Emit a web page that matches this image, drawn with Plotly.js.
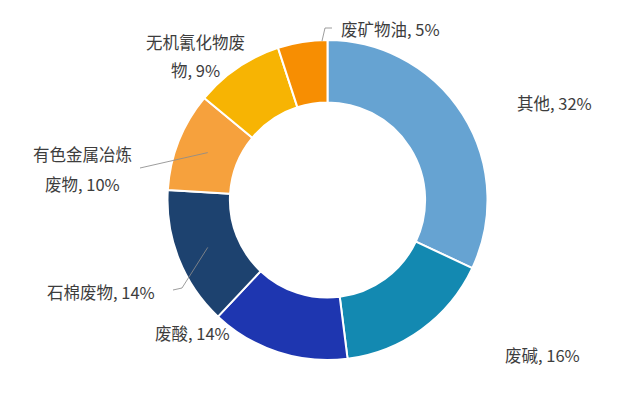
<!DOCTYPE html>
<html><head><meta charset="utf-8">
<script src="https://cdn.plot.ly/plotly-3.0.1.min.js"></script>
<style>html,body{margin:0;padding:0;background:#fff}#chart{width:644px;height:397px}</style>
</head><body><div id="chart"></div>
<script>
const categories = ["其他", "废碱", "废酸", "石棉废物", "有色金属冶炼废物", "无机氰化物废物", "废矿物油"];
const shares = [32, 16, 14, 14, 10, 9, 5];
const colors = ["#66a3d2", "#1389b1", "#1e36b0", "#1d426f", "#f6a13d", "#f7b403", "#f78e02"];

const W = 644, H = 397;
const cx = 327.5, cy = 200, R = 160, hole = 0.61;

const total = shares.reduce((a, b) => a + b, 0);
const fmt = v => Math.round(v / total * 100) + "%";

const labelSpecs = [
  {lines: [categories[0] + ", " + fmt(shares[0])], x: 554, y: 103},
  {lines: [categories[1] + ", " + fmt(shares[1])], x: 542, y: 355},
  {lines: [categories[2] + ", " + fmt(shares[2])], x: 192, y: 333},
  {lines: [categories[3] + ", " + fmt(shares[3])], x: 101, y: 292},
  {lines: ["有色金属冶炼", "废物, " + fmt(shares[4])], x: 82.5, y: 154, dy: 30},
  {lines: ["无机氰化物废", "物, " + fmt(shares[5])], x: 195, y: 42, dy: 28},
  {lines: [categories[6] + ", " + fmt(shares[6])], x: 390, y: 29}
];

const px = x => x / W, py = y => 1 - y / H;

const annotations = [];
labelSpecs.forEach(s => {
  s.lines.forEach((t, k) => {
    annotations.push({
      x: px(s.x), y: py(s.y + k * (s.dy || 0)), xref: "paper", yref: "paper",
      text: t, showarrow: false, xanchor: "center", yanchor: "middle",
      font: {family: "Noto Sans CJK SC, sans-serif", size: 16.5, color: "#3d3d3d"}
    });
  });
});

let cum = 0;
const mids = shares.map(v => { const m = (cum + v / 2) / total * 360; cum += v; return m; });
function pt(angle, r) {
  const a = angle * Math.PI / 180;
  return [cx + r * Math.sin(a), cy - r * Math.cos(a)];
}
const rMid = R * (1 + hole) / 2;
const leaders = [
  [pt(mids[4], rMid), [140, 168]],
  [pt(mids[3], rMid), [182, 288], [173, 290]],
  [[322, 41], [325, 28], [332, 28]]
];
const shapes = leaders.map(p => ({
  type: "path", xref: "paper", yref: "paper",
  path: p.map((q, k) => (k ? "L" : "M") + px(q[0]) + "," + py(q[1])).join(" "),
  line: {color: "rgba(140,140,140,0.85)", width: 1}
}));

const trace = {
  type: "pie",
  labels: categories,
  values: shares,
  hole: hole,
  sort: false,
  direction: "clockwise",
  rotation: 0,
  textinfo: "none",
  hoverinfo: "label+percent",
  marker: {colors: colors, line: {color: "#ffffff", width: 2}},
  domain: {x: [px(cx - R), px(cx + R)], y: [py(cy + R), py(cy - R)]},
  showlegend: false
};

Plotly.newPlot("chart", [trace], {
  width: W, height: H,
  margin: {l: 0, r: 0, t: 0, b: 0},
  paper_bgcolor: "#ffffff",
  showlegend: false,
  annotations: annotations,
  shapes: shapes
}, {displayModeBar: false, staticPlot: true});
</script></body></html>
